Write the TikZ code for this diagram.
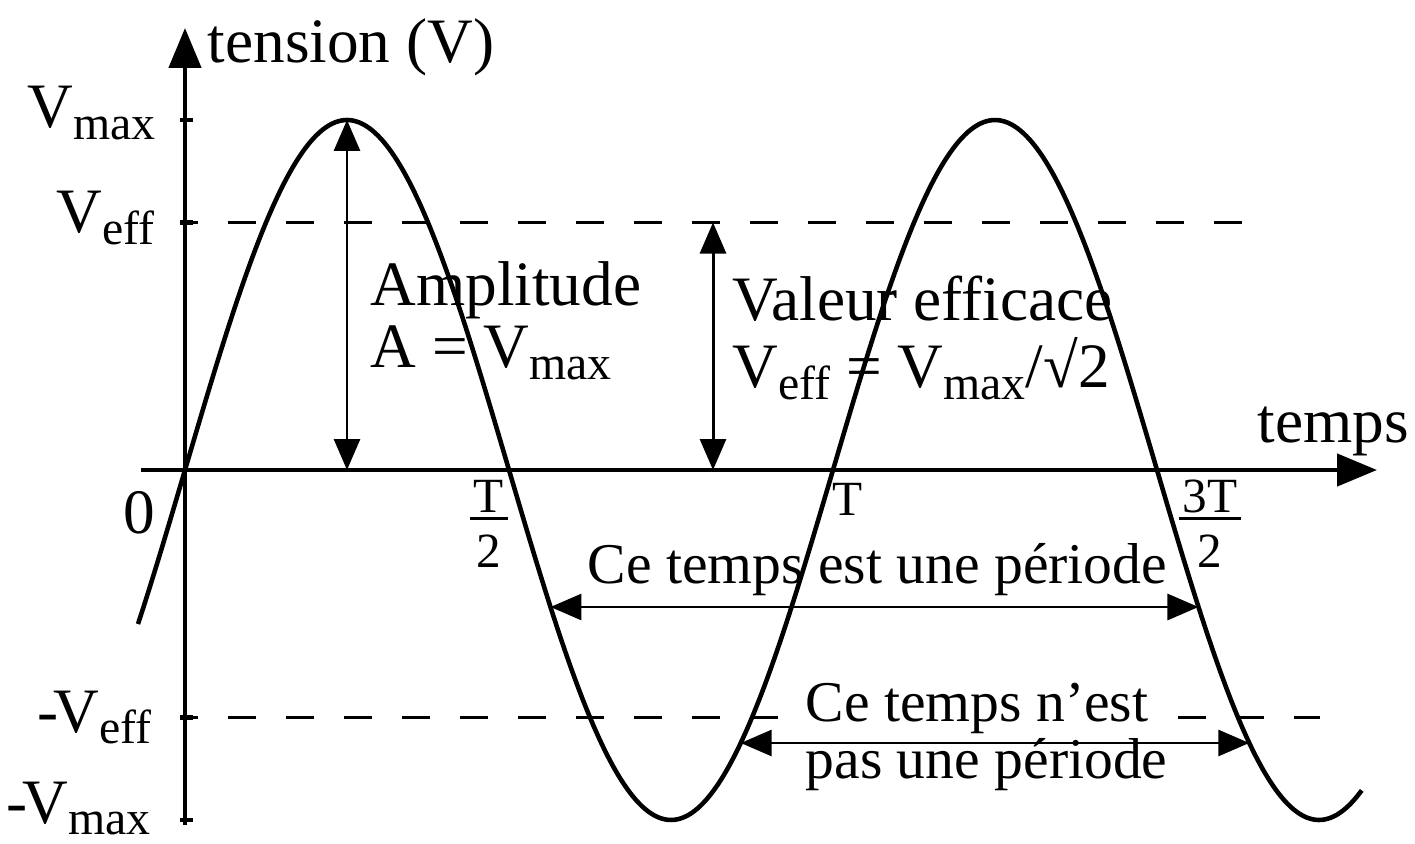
\documentclass[tikz,border=0pt]{standalone}
\usepackage{amsmath}
\usepackage{fontspec}
\setmainfont{Liberation Serif}
\usepackage{tikz}
\usetikzlibrary{arrows.meta}
\newcommand{\ind}[1]{\raisebox{-3.2pt}{\fontsize{13.6}{16}\selectfont #1}}
\newcommand{\fractexte}[2]{{\setlength{\arrayrulewidth}{0.85pt}%
  \begin{tabular}{@{\hspace{1pt}}c@{\hspace{1pt}}}#1\\[-3.5pt]\hline\rule{0pt}{13.5pt}#2\end{tabular}}}

\begin{document}
\begin{tikzpicture}[
    axe/.style={line width=1.3pt, -{Triangle[length=4mm, width=3.2mm]}},
    pointille/.style={line width=1.1pt, dash pattern=on 2.8mm off 3mm},
    fleche/.style={line width=0.85pt, {Triangle[length=3.1mm, width=2.6mm]}-{Triangle[length=3.1mm, width=2.6mm]}},
    courbe/.style={line width=1.3pt},
    texte/.style={inner sep=0pt, font=\fontsize{18}{19}\selectfont},
    petit/.style={inner sep=0pt, font=\fontsize{16.4}{16}\selectfont},
    graduation/.style={inner sep=0pt, font=\fontsize{14}{16}\selectfont}]

  \pgfmathsetmacro{\periode}{6.48}
  \pgfmathsetmacro{\ampl}{3.5}
  \pgfmathsetmacro{\eff}{\ampl/sqrt(2)}
  \useasboundingbox (-1.85,-3.73) rectangle (12.30,4.70);

  % niveaux efficaces
  \draw[pointille, dash phase=1.5mm] (0,\eff) -- (10.62,\eff);
  \draw[pointille, dash phase=1.5mm] (0,-\eff) -- (5.96,-\eff);
  \draw[pointille] (9.93,-\eff) -- (11.35,-\eff);

  % textes
  \node[texte, anchor=base east] (vmax) at (-0.29,3.42) {V\ind{max}};
  \node[texte, anchor=base east] (veff) at (-0.30,2.37) {V\ind{eff}};
  \node[texte, anchor=base east] (mveff) at (-0.33,-2.62) {-\kern-1.5pt V\ind{eff}};
  \node[texte, anchor=base east] (mvmax) at (-0.34,-3.53) {-\kern-1.5pt V\ind{max}};
  \node[texte, anchor=base west] (tension) at (0.22,4.07) {tension (V)};
  \node[texte, anchor=base west] (temps) at (10.72,0.28) {temps};
  \node[texte, anchor=base] (zero) at (-0.46,-0.63) {0};
  \node[graduation] (demi) at (3.04,-0.59) {\fractexte{T}{2}};
  \node[graduation, anchor=base] (per) at (6.63,-0.45) {T};
  \node[graduation] (troisdemi) at (10.25,-0.59) {\fractexte{3T}{2}};
  \node[texte, anchor=base west, align=left] (amp) at (1.85,1.02)
    {Amplitude\\[-1.1pt]A = V\ind{max}};
  \node[texte, anchor=base west, align=left] (valeff) at (5.47,0.82)
    {Valeur efficace\\[0.3pt]V\ind{eff} = V\ind{max}/√2};
  \node[petit, anchor=base west] (estper) at (4.02,-1.13) {Ce temps est une période};
  \node[petit, anchor=base west, align=left] (pasper) at (6.20,-3.08)
    {Ce temps n’est\\pas une période};

  % fleches
  \coordinate (sommet) at ({\periode/4},\ampl);
  \coordinate (pied) at ({\periode/4},0);
  \coordinate (effhaut) at (5.28,\eff);
  \coordinate (effbas) at (5.28,0);
  \pgfmathsetmacro{\xa}{(180+asin(1.37/\ampl))/360*\periode}
  \pgfmathsetmacro{\xb}{(360-asin(2.73/\ampl))/360*\periode}
  \pgfmathsetmacro{\xc}{(540+asin(2.73/\ampl))/360*\periode}
  \coordinate (p1) at (\xa,-1.37);
  \coordinate (p2) at ({\xa+\periode},-1.37);
  \coordinate (q1) at (\xb,-2.73);
  \coordinate (q2) at (\xc,-2.73);
  \draw[fleche] (pied) -- (sommet);
  \draw[fleche] (effbas) -- (effhaut);
  \draw[fleche] (p1) -- (p2);
  \draw[fleche] (q1) -- (q2);

  % axes
  \coordinate (bas) at (0,-3.55);
  \coordinate (haut) at (0,4.42);
  \coordinate (gauche) at (-0.44,0);
  \coordinate (droite) at (11.92,0);
  \draw[axe] (bas) -- (haut);
  \draw[axe] (gauche) -- (droite);
  \foreach \y in {\ampl, \eff, -\eff, -\ampl}
    \draw[line width=1.3pt] (-0.05,\y) -- (0.08,\y);

  % tension sinusoidale
  \draw[courbe] plot[domain=-0.47:11.77, samples=200, smooth] (\x,{\ampl*sin(\x*360/\periode)});
\end{tikzpicture}
\end{document}
